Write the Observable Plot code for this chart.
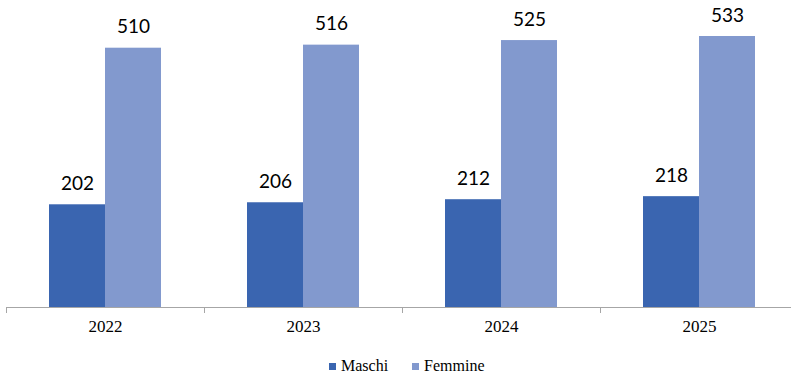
<!DOCTYPE html>
<html>
<head>
<meta charset="utf-8">
<script src="https://cdn.jsdelivr.net/npm/d3@7"></script>
<script src="https://cdn.jsdelivr.net/npm/@observablehq/plot@0.6"></script>
<style>
  html, body { margin: 0; padding: 0; background: #fff; overflow: hidden; width: 791px; height: 376px; }
  #chart svg { display: block; max-width: none !important; }
  #legend { position: absolute; top: 356px; left: 329px; height: 20px; display: flex; align-items: center;
    font-family: 'Liberation Serif', 'Times New Roman', serif; font-size: 16px; color: #000; white-space: nowrap; }
  #legend .item { display: flex; align-items: center; margin-right: 24px; }
  #legend .sw { width: 7px; height: 7px; margin-right: 5px; display: inline-block; }
</style>
</head>
<body>
<div id="chart"></div>
<div id="legend"></div>
<script>
const years = ["2022", "2023", "2024", "2025"];
const series = ["Maschi", "Femmine"];
const maschi = [202, 206, 212, 218];
const femmine = [510, 516, 525, 533];
const colors = ["#3A65B0", "#8299CE"];

const data = years.flatMap((y, i) => [
  {year: y, series: series[0], value: maschi[i]},
  {year: y, series: series[1], value: femmine[i]}
]);

const plot = Plot.plot({
  width: 799,
  height: 345,
  marginLeft: 6,
  marginRight: 1,
  marginTop: 36,
  marginBottom: 38,
  style: {background: "#fff", overflow: "visible", maxWidth: "none"},
  fx: {domain: years, padding: 0, label: null, axis: null},
  x: {domain: series, paddingInner: 0, paddingOuter: 0.752, axis: null},
  y: {domain: [0, 533], axis: null},
  color: {domain: series, range: colors},
  marks: [
    Plot.barY(data, {fx: "year", x: "series", y: "value", fill: "series"}),
    Plot.ruleY([0], {stroke: "#a6a6a6", strokeWidth: 1}),
    Plot.frame({anchor: "left", stroke: "#a6a6a6", insetTop: 271, insetBottom: -5}),
    Plot.axisFx({anchor: "bottom", tickSize: 0, tickPadding: 12, label: null, fontSize: 17,
      fontFamily: "'Liberation Serif', serif", fill: "#000"}),
    Plot.text(data, {fx: "year", x: "series", y: "value", text: d => String(d.value),
      lineAnchor: "bottom", dy: -15, fontSize: 19, fill: "#000",
      fontFamily: "Lato, 'Open Sans', sans-serif"})
  ]
});
d3.select(plot).selectAll("g[aria-label='fx-axis tick label']")
  .attr("font-size", 17).attr("font-family", "'Liberation Serif', serif")
  .style("font-size", "17px").style("font-family", "'Liberation Serif', serif");
document.getElementById("chart").appendChild(plot);

const color = plot.scale("color");
const leg = d3.select("#legend");
series.forEach(s => {
  const item = leg.append("span").attr("class", "item");
  item.append("span").attr("class", "sw").style("background", color.apply(s));
  item.append("span").text(s);
});
</script>
</body>
</html>
